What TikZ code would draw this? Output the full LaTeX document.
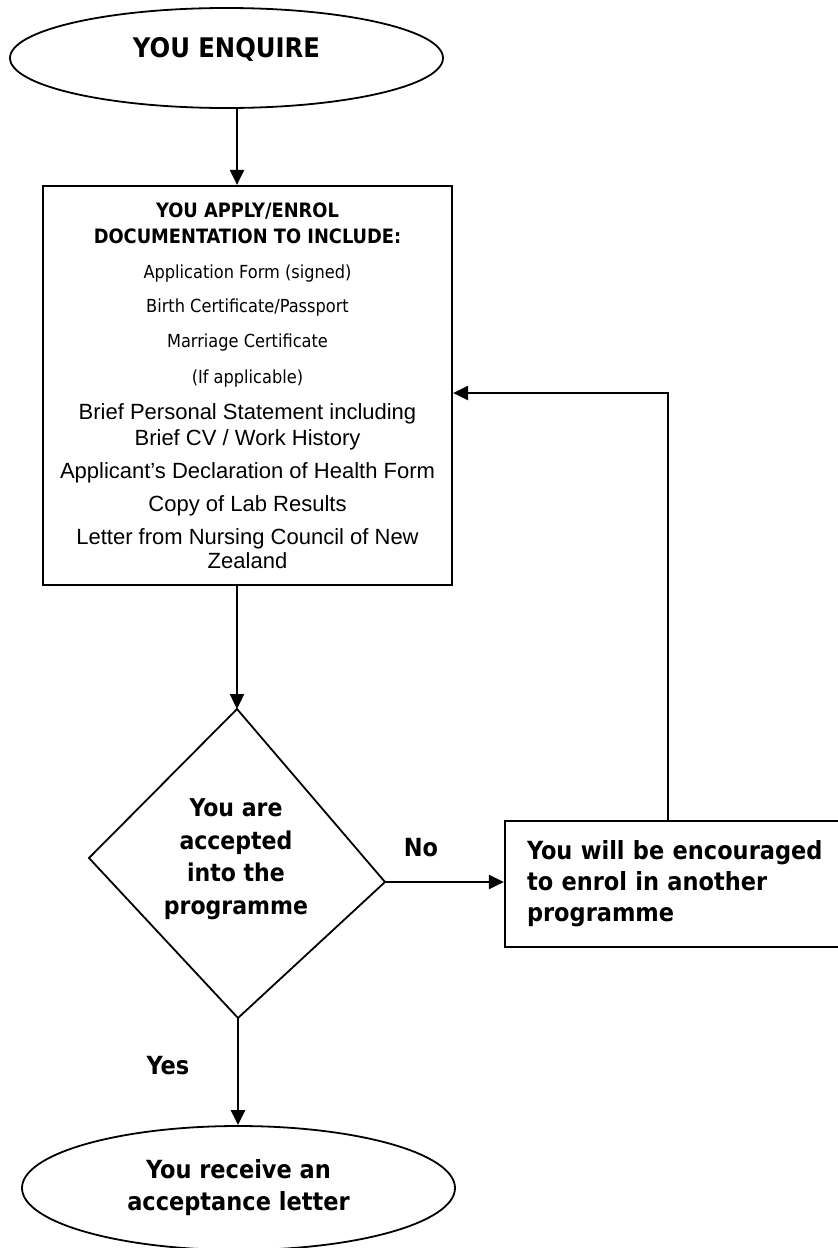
\documentclass[tikz,border=0pt]{standalone}
\usepackage{fontspec}
\usepackage{tikz}
\usetikzlibrary{arrows.meta,shapes.geometric}
\newfontfamily\tahoma{DejaVu Sans Condensed}
\newfontfamily\arial{Liberation Sans}
\newcommand{\listfont}{\arial\fontsize{22}{25}\selectfont}
\newcommand{\capsfont}{\bfseries\fontsize{19.8}{25}\selectfont}

\begin{document}
\begin{tikzpicture}[x=1pt, y=-1pt,
    oval/.style={ellipse, draw, line width=1.8pt, minimum width=433pt, inner sep=0pt,
      font=\tahoma\bfseries\fontsize{25}{32}\selectfont, align=center},
    box/.style={rectangle, draw, line width=2.2pt, inner sep=0pt},
    flow/.style={line width=2.4pt, -{Triangle[length=15pt,width=14pt]}},
    tag/.style={font=\tahoma\bfseries\fontsize{25}{32.5}\selectfont}]
  %%%%% START %%%%%
  \useasboundingbox (0,0) rectangle (838,1248);

  \node[oval, minimum height=100pt, text depth=22pt, font=\tahoma\bfseries\fontsize{27}{32}\selectfont]
    (enq) at (226.5,58) {YOU ENQUIRE};

  \node[box, minimum width=409pt, minimum height=399pt, align=center,
    font=\tahoma\fontsize{18}{25}\selectfont] (apply) at (247.5,385.5) {%
    {\capsfont YOU APPLY/ENROL}\\[1pt]
    {\capsfont DOCUMENTATION TO INCLUDE:}\\[10pt]
    Application Form (signed)\\[9pt]
    Birth Certificate/Passport\\[10pt]
    Marriage Certificate\\[11pt]
    (If applicable)\\[11pt]
    {\listfont Brief Personal Statement including}\\[1pt]
    {\listfont Brief CV / Work History}\\[8pt]
    {\listfont Applicant’s Declaration of Health Form}\\[8pt]
    {\listfont Copy of Lab Results}\\[8pt]
    {\listfont Letter from Nursing Council of New}\\[-1pt]
    {\listfont Zealand}};

  % decision
  \coordinate (dtop) at (237,709);
  \coordinate (dright) at (385,882);
  \coordinate (dbot) at (238,1018);
  \coordinate (dleft) at (89,858);
  \draw[line width=1.8pt] (dtop) -- (dright) -- (dbot) -- (dleft) -- cycle;
  \node[tag, align=center, font=\tahoma\bfseries\fontsize{24.5}{32.5}\selectfont] (accept) at (236,859)
    {You are\\accepted\\into the\\programme};

  \node[box, minimum height=126pt, text width=310pt, inner xsep=22pt,
    align=left, font=\tahoma\bfseries\fontsize{25}{31}\selectfont] (redirect) at (682,884)
    {You will be encouraged\\to enrol in another\\programme};

  \node[oval, minimum height=124pt] (receive) at (238.5,1188) {You receive an\\acceptance letter};

  \node[tag] (no) at (421,848) {No};
  \node[tag] (yes) at (168,1066) {Yes};

  % connectors
  \coordinate (spine) at (237,0);
  \coordinate (back) at (668,393);
  \draw[flow] (spine |- enq.south) -- (spine |- apply.north);
  \draw[flow] (spine |- apply.south) -- (dtop);
  \draw[flow] (dright) -- (dright -| redirect.west);
  \draw[flow] (dbot) -- (dbot |- receive.north);
  \draw[flow] (back |- redirect.north) -- (back) -- (back -| apply.east);
  %%%%% END %%%%%
\end{tikzpicture}
\end{document}
